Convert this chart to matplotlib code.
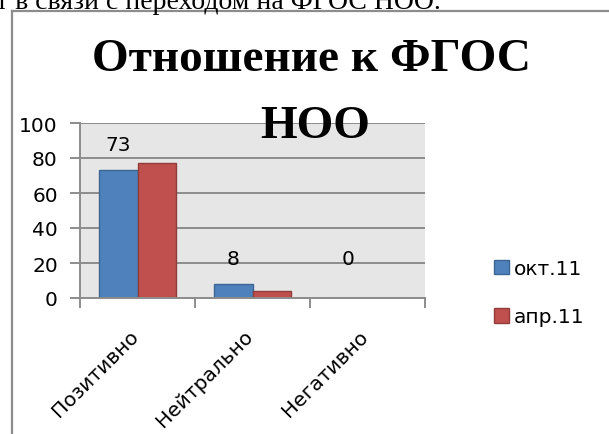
import matplotlib
matplotlib.use( 'Agg' )
from matplotlib import pyplot as plt
from matplotlib.lines import Line2D
from matplotlib.patches import Patch
from matplotlib.transforms import ScaledTranslation
import numpy as np

#------------------------------------------------------------------
# Data.
#
categories = [ 'Позитивно', 'Нейтрально', 'Негативно' ]
oct_values = [ 73, 8, 0 ]
apr_values = [ 77, 4, 0 ]
series_names = [ 'окт.11', 'апр.11' ]
y_ticks = [ 0, 20, 40, 60, 80, 100 ]

W, H = 609, 435
fig = plt.figure( figsize = ( W / 100, H / 100 ), dpi = 100 )
fig.patch.set_facecolor( 'white' )

FONT = 'DejaVu Sans'
FS = 14.5

def fx( px ):
    return px / W

def fy( py ):
    return 1 - py / H

# Text from the page above the chart (cut at the top edge).
fig.text( fx( -4 ), fy( 9 ), 'т в связи с переходом на ФГОС НОО.', fontsize = 20,
          family = 'Liberation Serif', ha = 'left', va = 'baseline' )

# Chart frame (cut by the page edges).
fig.add_artist( Line2D( [ fx( 11.5 ), fx( 11.5 ) ], [ fy( 12 ), fy( 440 ) ], color = '#8c8c8c', lw = 1.6 ) )
fig.add_artist( Line2D( [ fx( 11.5 ), fx( 615 ) ], [ fy( 12 ), fy( 12 ) ], color = '#8c8c8c', lw = 1.6 ) )

ax = fig.add_axes( [ fx( 80 ), fy( 299 ), fx( 425 ) - fx( 80 ), fy( 124 ) - fy( 299 ) ] )
ax.set_facecolor( '#e6e6e6' )

x = np.arange( len( categories ) )
bw = 0.335
ax.bar( x - bw / 2, oct_values, bw, color = '#4f81bd', edgecolor = '#3b6592', linewidth = 1.0, zorder = 3 )
ax.bar( x + bw / 2, apr_values, bw, color = '#c0504d', edgecolor = '#923c3a', linewidth = 1.0, zorder = 3 )

# Data labels of the first series (small values are lifted a bit).
for xi, v in zip( x, oct_values ):
    ax.text( xi - bw / 2, max( v, 8 ) + 14.5, str( v ), ha = 'center', va = 'center', fontsize = FS,
             family = FONT, zorder = 4 )

ax.set_xlim( -0.5, len( categories ) - 0.5 )
ax.set_ylim( 0, 100 )
ax.set_yticks( y_ticks )
ax.set_yticklabels( [ str( t ) for t in y_ticks ], fontsize = FS, family = FONT )
ax.yaxis.grid( True, color = '#8c8c8c', linewidth = 1.4, zorder = 1 )
ax.set_axisbelow( True )

# Category boundaries as ticks; category names drawn as rotated texts.
ax.set_xticks( np.arange( len( categories ) + 1 ) - 0.5 )
ax.set_xticklabels( [] )
lbl_trans = ax.get_xaxis_transform() + ScaledTranslation( -0.09, -0.28, fig.dpi_scale_trans )
for xi, name in zip( x, categories ):
    ax.text( xi, 0, name, transform = lbl_trans, rotation = 45, ha = 'right', va = 'top',
             rotation_mode = 'anchor', fontsize = FS, family = FONT, clip_on = False )
ax.tick_params( axis = 'x', which = 'major', length = 7, width = 1.4, color = '#8c8c8c', direction = 'out' )
ax.tick_params( axis = 'y', length = 7, width = 1.4, color = '#8c8c8c', pad = 9 )

for side in [ 'top', 'right' ]:
    ax.spines[ side ].set_visible( False )
for side in [ 'left', 'bottom' ]:
    ax.spines[ side ].set_color( '#8c8c8c' )
    ax.spines[ side ].set_linewidth( 1.4 )
    ax.spines[ side ].set_zorder( 5 )

# Legend.
handles = [ Patch( facecolor = '#4f81bd', edgecolor = '#3b6592' ),
            Patch( facecolor = '#c0504d', edgecolor = '#923c3a' ) ]
fig.legend( handles, series_names, loc = 'upper left', bbox_to_anchor = ( fx( 494 ), fy( 260 ) ),
            frameon = False, prop = { 'family': FONT, 'size': FS }, handlelength = 0.75,
            handleheight = 0.75, handletextpad = 0.25, labelspacing = 1.45, borderaxespad = 0,
            borderpad = 0 )

# Title.
fig.text( fx( 311 ), fy( 71 ), 'Отношение к ФГОС', fontsize = 34, fontweight = 'bold',
          family = 'Liberation Serif', ha = 'center', va = 'baseline', zorder = 10 )
fig.text( fx( 315 ), fy( 138 ), 'НОО', fontsize = 34, fontweight = 'bold',
          family = 'Liberation Serif', ha = 'center', va = 'baseline', zorder = 10 )

fig.savefig( 'out.png', dpi = 100 )
